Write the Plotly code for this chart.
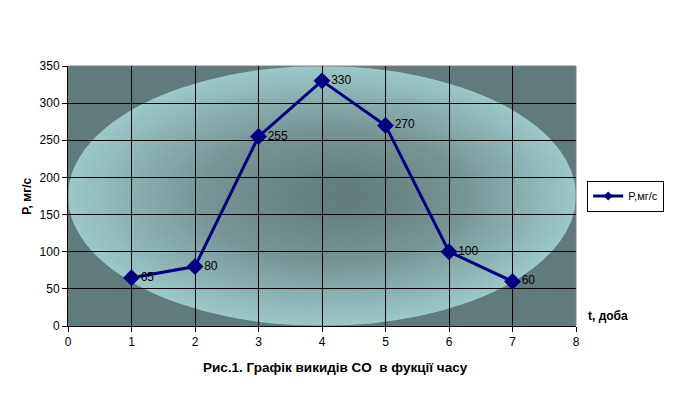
import base64
import plotly.graph_objects as go

days = [1, 2, 3, 4, 5, 6, 7]
emissions = [65, 80, 255, 330, 270, 100, 60]
x_ticks = [0, 1, 2, 3, 4, 5, 6, 7, 8]
y_ticks = [0, 50, 100, 150, 200, 250, 300, 350]

svg = '''<svg xmlns="http://www.w3.org/2000/svg" width="508" height="260" viewBox="0 0 508 260" preserveAspectRatio="none">
<defs><radialGradient id="g" cx="0.5" cy="0.5" r="0.5" fx="0.55" fy="0.5">
<stop offset="0" stop-color="#5f7b7b"/>
<stop offset="0.5" stop-color="#759494"/>
<stop offset="1" stop-color="#9cc8c8"/>
</radialGradient></defs>
<rect x="0" y="0" width="508" height="260" fill="#5f7b7b"/>
<ellipse cx="254" cy="130" rx="254" ry="130" fill="url(#g)"/>
</svg>'''
img_src = "data:image/svg+xml;base64," + base64.b64encode(svg.encode()).decode()

fig = go.Figure()
fig.add_trace(go.Scatter(
    x=days, y=emissions, mode="lines+markers+text",
    name="P,мг/с", showlegend=False,
    line=dict(color="#000080", width=3),
    marker=dict(symbol="diamond", size=13, color="#000080"),
    text=[str(v) for v in emissions], textposition="middle right",
    textfont=dict(family="Liberation Sans, Arial", size=12, color="#000000"),
    cliponaxis=False,
))
# legend entry with smaller marker
fig.add_trace(go.Scatter(
    x=[None], y=[None], mode="lines+markers", name="P,мг/с",
    line=dict(color="#000080", width=3),
    marker=dict(symbol="diamond", size=7, color="#000080"),
))

fig.add_layout_image(dict(
    source=img_src, xref="paper", yref="paper", x=0, y=1, sizex=1, sizey=1,
    sizing="stretch", layer="below", xanchor="left", yanchor="top",
))

axis_common = dict(
    showgrid=True, gridcolor="#000000", gridwidth=1,
    showline=True, linecolor="#000000", linewidth=1,
    ticks="outside", ticklen=5, tickcolor="#000000",
    tickfont=dict(family="Liberation Sans, Arial", size=12, color="#000000"),
    zeroline=False,
)
fig.update_xaxes(range=[0, 8], tickvals=x_ticks, **axis_common)
fig.update_yaxes(range=[0, 350], tickvals=y_ticks, **axis_common)

fig.update_layout(
    width=674, height=394,
    margin=dict(l=68, r=98, t=66, b=68, autoexpand=False),
    paper_bgcolor="#ffffff", plot_bgcolor="rgba(0,0,0,0)",
    font=dict(family="Liberation Sans, Arial", size=12, color="#000000"),
    showlegend=True,
    legend=dict(x=1.022, y=0.5, xanchor="left", yanchor="middle",
                bordercolor="#000000", borderwidth=1, bgcolor="#ffffff",
                font=dict(size=11), itemwidth=30, tracegroupgap=0),
    shapes=[dict(type="rect", xref="paper", yref="paper", x0=0, y0=0, x1=1, y1=1,
                 line=dict(color="#808080", width=1), layer="below")],
    annotations=[
        dict(text="<b>Рис.1. Графік викидів CO  в фукції часу</b>", xref="paper", yref="paper",
             x=0.527, y=-0.158, xanchor="center", yanchor="middle", showarrow=False,
             font=dict(size=13.5)),
        dict(text="<b>t, доба</b>", xref="paper", yref="paper", x=1.063, y=0.04,
             xanchor="center", yanchor="middle", showarrow=False, font=dict(size=12)),
        dict(text="<b>P, мг/с</b>", xref="paper", yref="paper", x=-0.081, y=0.5,
             xanchor="center", yanchor="middle", showarrow=False, textangle=-90,
             font=dict(size=12)),
    ],
)

fig.write_html("out.html", config={"displayModeBar": False},
               post_script="document.body.style.margin='0';document.body.style.padding='0';")
